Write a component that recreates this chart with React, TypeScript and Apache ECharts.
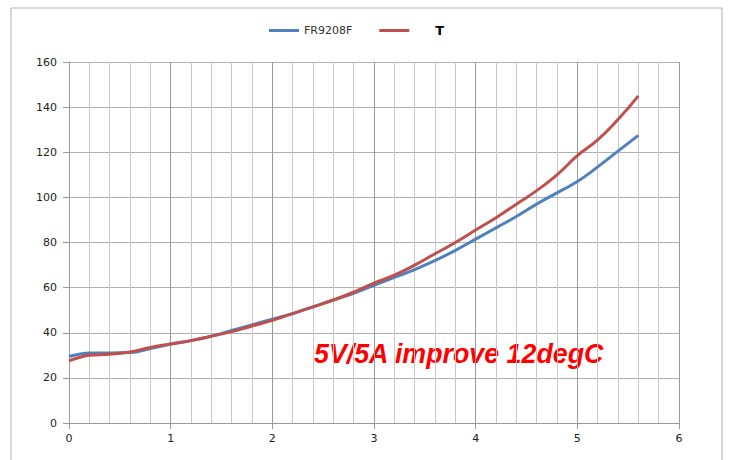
import React, { useEffect, useRef } from "react";
import * as echarts from "echarts";

const xValues = [0, 0.1, 0.2, 0.4, 0.6, 0.8, 1.0, 1.2, 1.4, 1.6, 1.8, 2.0, 2.2, 2.4, 2.6, 2.8, 3.0, 3.2, 3.4, 3.6, 3.8, 4.0, 4.2, 4.4, 4.6, 4.8, 5.0, 5.2, 5.4, 5.6];
const fr9208f = [29.5, 30.5, 31, 31, 31.2, 33, 35, 36.5, 38.5, 41, 43.5, 46, 48.5, 51.5, 54.5, 57.5, 61, 64.5, 68, 72, 76.5, 81.5, 86.5, 91.5, 97, 102, 107, 113.5, 120.5, 127.5];
const tSeries = [27.5, 29, 30, 30.5, 31.5, 33.5, 35, 36.5, 38.5, 40.5, 43, 45.5, 48.5, 51.5, 54.5, 58, 62, 65.5, 70, 75, 80, 85.5, 91, 97, 103, 110, 118.5, 125.5, 134.5, 145];
const seriesNames = ["FR9208F", "T"];
const annotation = "5V/5A improve 12degC";

export default function App() {
  const ref = useRef<HTMLDivElement>(null);
  useEffect(() => {
    const chart = echarts.init(ref.current!, null, { renderer: "svg" });
    const font = "'DejaVu Sans', Verdana, sans-serif";
    chart.setOption({
      animation: false,
      backgroundColor: "#fff",
      graphic: [
        {
          type: "rect",
          shape: { x: 11, y: 8, width: 711, height: 470 },
          style: { fill: "none", stroke: "#b0b0b0", lineWidth: 1 },
          silent: true,
        },
        {
          type: "text",
          left: 314,
          top: 340,
          style: {
            text: annotation,
            fill: "#ff0000",
            font: "italic bold 26.8px 'Liberation Sans', Arial, sans-serif",
          },
        },
      ],
      legend: {
        left: 264,
        top: 19,
        icon: "rect",
        itemWidth: 30,
        itemHeight: 3,
        itemGap: 27,
        textStyle: { fontFamily: font, fontSize: 11, color: "#333" },
        data: [
          { name: seriesNames[0] },
          {
            name: seriesNames[1],
            textStyle: { fontFamily: font, fontWeight: "bold", fontSize: 13, color: "#000", padding: [0, 0, 0, 21] },
          },
        ],
      },
      grid: { left: 69, right: 52, top: 62, bottom: 37 },
      xAxis: {
        type: "value",
        min: 0,
        max: 6,
        interval: 1,
        axisLine: { show: true, lineStyle: { color: "#9a9a9a", width: 1 } },
        axisTick: { show: true, length: 6, lineStyle: { color: "#9a9a9a" } },
        axisLabel: { fontFamily: font, fontSize: 11, color: "#222", margin: 10 },
        splitLine: { show: true, lineStyle: { color: "#9a9a9a", width: 1 } },
        minorTick: { show: false, splitNumber: 5 },
        minorSplitLine: { show: true, lineStyle: { color: "#c8c8c8", width: 1 } },
      },
      yAxis: {
        type: "value",
        min: 0,
        max: 160,
        interval: 20,
        axisLine: { show: true, lineStyle: { color: "#9a9a9a", width: 1 } },
        axisTick: { show: true, length: 6, lineStyle: { color: "#9a9a9a" } },
        axisLabel: { fontFamily: font, fontSize: 11, color: "#222", margin: 12 },
        splitLine: { show: true, lineStyle: { color: "#b0b0b0", width: 1 } },
      },
      series: [
        {
          name: seriesNames[0],
          type: "line",
          smooth: true,
          symbol: "none",
          data: xValues.map((x, i) => [x, fr9208f[i]]),
          lineStyle: { color: "#4f81bd", width: 3 },
          itemStyle: { color: "#4f81bd" },
        },
        {
          name: seriesNames[1],
          type: "line",
          smooth: true,
          symbol: "none",
          data: xValues.map((x, i) => [x, tSeries[i]]),
          lineStyle: { color: "#c0504d", width: 3 },
          itemStyle: { color: "#c0504d" },
        },
      ],
    });
    return () => chart.dispose();
  }, []);
  return <div ref={ref} style={{ position: "fixed", left: 0, top: 0, width: 731, height: 460 }} />;
}
